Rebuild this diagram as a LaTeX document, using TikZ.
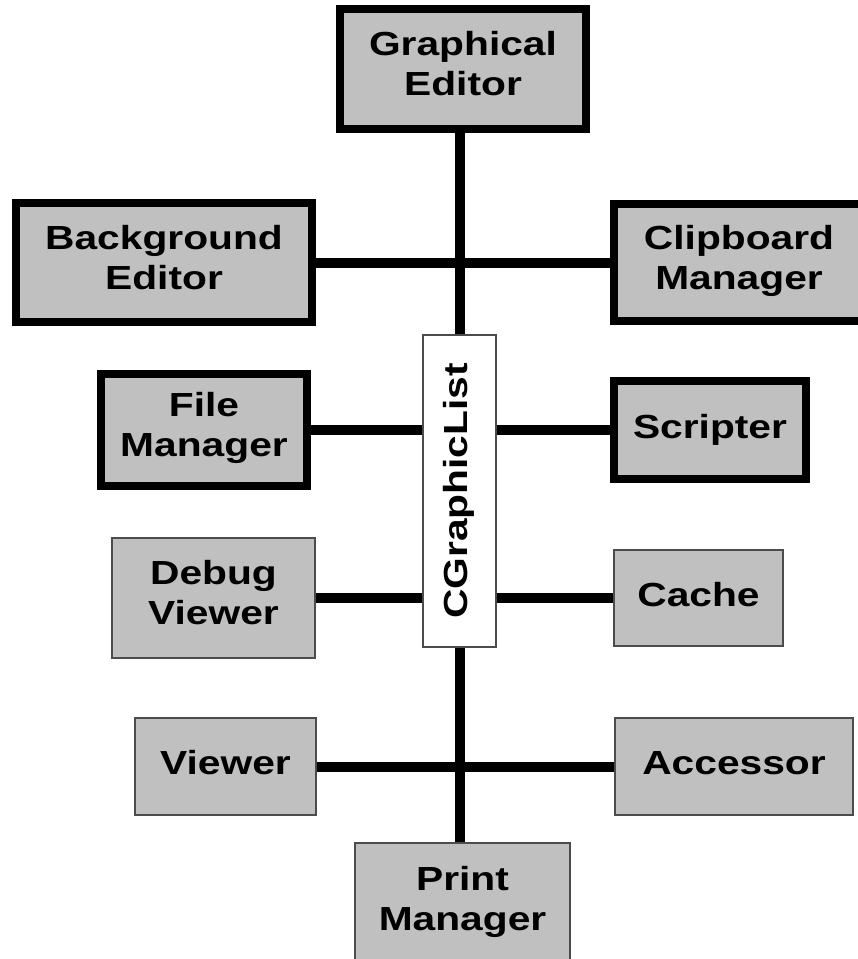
\documentclass[tikz,border=0pt]{standalone}
\usepackage{fontspec}
\newfontfamily\boxfont[FakeStretch=1.22]{Liberation Sans}
\usetikzlibrary{backgrounds}
\definecolor{boxgray}{RGB}{192,192,192}
\tikzstyle{unitbox}=[rectangle,fill=boxgray,align=center,inner sep=0pt,font=\boxfont\bfseries\fontsize{19pt}{22.8pt}\selectfont,execute at end node=\strut]
\tikzstyle{mainbox}=[unitbox,draw=black,line width=0.16cm]
\tikzstyle{subbox}=[unitbox,draw=black!70,line width=0.6pt]
\tikzstyle{listbox}=[unitbox,fill=white,draw=black!70,line width=0.6pt,rotate=90]
\tikzstyle{link}=[line width=0.2cm]

\begin{document}
\begin{tikzpicture}
    \useasboundingbox (0,0) rectangle (17.14,-19.18);

    % Liste
    \node[listbox, minimum width=6.24cm, minimum height=1.46cm] (glist) at (9.19,-9.82) {CGraphicList};

    % Klienten
    \node[mainbox, minimum width=4.92cm, minimum height=2.40cm] (gedit) at (9.26,-1.38) {Graphical\\Editor};
    \node[mainbox, minimum width=5.92cm, minimum height=2.38cm] (bgedit) at (3.28,-5.26) {Background\\Editor};
    \node[mainbox, minimum width=5.00cm, minimum height=2.34cm] (clip) at (14.78,-5.26) {Clipboard\\Manager};
    \node[mainbox, minimum width=4.12cm, minimum height=2.24cm] (fileman) at (4.08,-8.60) {File\\Manager};
    \node[mainbox, minimum width=3.84cm, minimum height=1.94cm] (scripter) at (14.20,-8.60) {Scripter};
    \node[subbox, minimum width=4.06cm, minimum height=2.40cm] (debug) at (4.27,-11.96) {Debug\\Viewer};
    \node[subbox, minimum width=3.38cm, minimum height=1.92cm] (cache) at (13.97,-11.96) {Cache};
    \node[subbox, minimum width=3.62cm, minimum height=1.94cm] (viewer) at (4.51,-15.33) {Viewer};
    \node[subbox, minimum width=4.76cm, minimum height=1.94cm] (accessor) at (14.68,-15.33) {Accessor};
    \node[subbox, minimum width=4.30cm, minimum height=2.46cm] (printman) at (9.25,-18.09) {Print\\Manager};

    % Verbindungen
    \begin{scope}[on background layer]
    \draw [link] (gedit.south -| glist) -- (printman.north -| glist);
    \draw [link] (bgedit) -- (clip);
    \draw [link] (fileman) -- (scripter);
    \draw [link] (debug) -- (cache);
    \draw [link] (viewer) -- (accessor);
    \end{scope}

\end{tikzpicture}
\end{document}
